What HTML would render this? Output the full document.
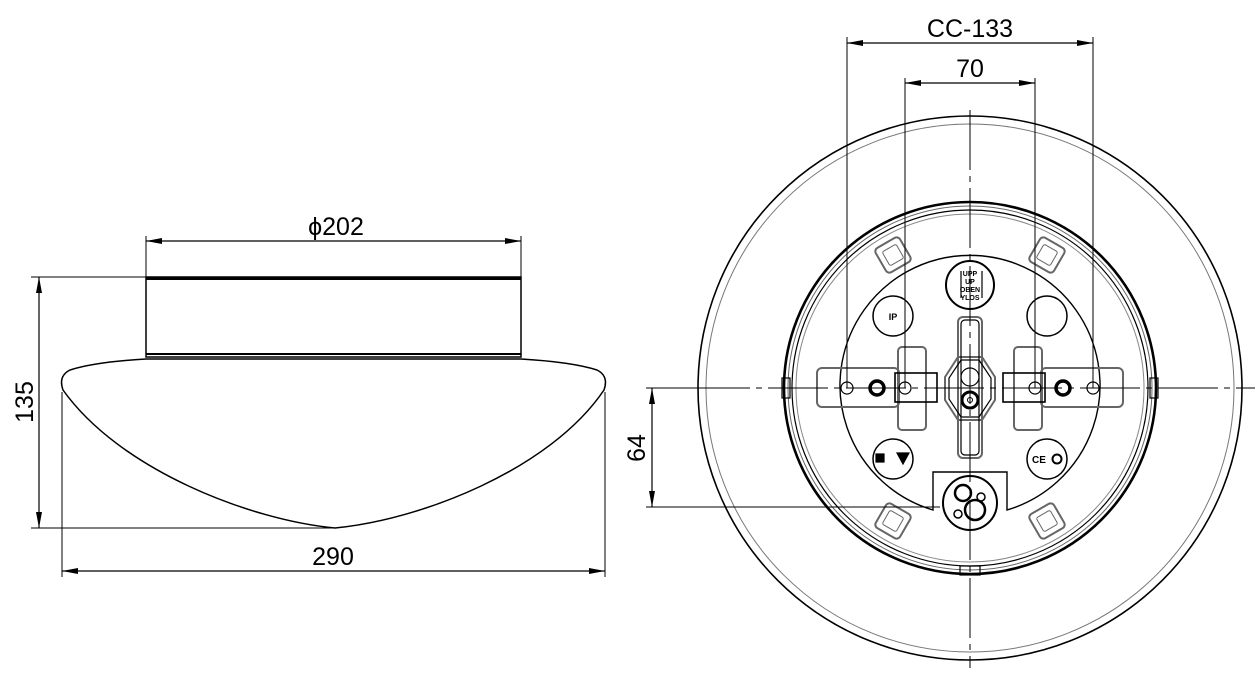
<!DOCTYPE html>
<html><head><meta charset="utf-8"><style>
html,body{margin:0;padding:0;background:#fff;}
svg{display:block;}
text{font-family:"Liberation Sans",sans-serif;fill:#000;}
</style></head><body>
<svg width="1260" height="676" viewBox="0 0 1260 676" xmlns="http://www.w3.org/2000/svg">
<defs>
<marker id="a" viewBox="0 0 16 6" refX="16" refY="3" markerWidth="16" markerHeight="6" markerUnits="userSpaceOnUse" orient="auto-start-reverse"><path d="M0,0 L16,3 L0,6 Z" fill="#000"/></marker>
</defs>
<g fill="none" stroke="#000" stroke-width="1.2">
<!-- LEFT VIEW -->
<rect x="146" y="277" width="375" height="80" stroke-width="1.5"/>
<line x1="146" y1="278.5" x2="521" y2="278.5" stroke-width="3"/>
<line x1="146" y1="354" x2="521" y2="354" stroke-width="2"/>
<path d="M146,359 Q95,362 70,370 Q58,376 63,390 C120,470 250,520 335,528 C420,520 550,470 604,390 Q609,376 597,370 Q572,362 521,359 Z" stroke-width="1.5"/>
<!-- dims left -->
<line x1="146" y1="236" x2="146" y2="277" stroke-width="1"/>
<line x1="521" y1="236" x2="521" y2="277" stroke-width="1"/>
<line x1="146" y1="241" x2="521" y2="241" marker-start="url(#a)" marker-end="url(#a)"/>
<line x1="31" y1="277" x2="146" y2="277" stroke-width="1"/>
<line x1="31" y1="528" x2="335" y2="528" stroke-width="1"/>
<line x1="39" y1="277" x2="39" y2="528" marker-start="url(#a)" marker-end="url(#a)"/>
<line x1="62" y1="392" x2="62" y2="577" stroke-width="1"/>
<line x1="605" y1="392" x2="605" y2="577" stroke-width="1"/>
<line x1="62" y1="571" x2="605" y2="571" marker-start="url(#a)" marker-end="url(#a)"/>

<!-- RIGHT VIEW -->
<circle cx="970" cy="388" r="272" stroke-width="1.6"/>
<circle cx="970" cy="388" r="264" stroke="#777" stroke-width="1"/>
<circle cx="970" cy="388" r="186" stroke-width="2.6"/>
<circle cx="970" cy="388" r="182" stroke="#666" stroke-width="1"/>
<circle cx="970" cy="388" r="178" stroke-width="1.2"/>
<circle cx="970" cy="388" r="174" stroke="#888" stroke-width="1"/>
<path d="M933,472 L1007,472 L1007,510 A130,130 0 1 0 933,510 Z" stroke-width="1.4"/>
<!-- side tabs -->
<rect x="782" y="378" width="8" height="20" stroke-width="1.2"/>
<rect x="1150" y="378" width="8" height="20" stroke-width="1.2"/>
<rect x="960" y="566" width="20" height="9" stroke-width="1.2"/>
<!-- gray clips -->
<g stroke="#666" stroke-width="2">
<rect x="-14" y="-14" width="28" height="28" rx="4" transform="translate(893,255) rotate(-30)"/>
<rect x="-14" y="-14" width="28" height="28" rx="4" transform="translate(1047,255) rotate(30)"/>
<rect x="-14" y="-14" width="28" height="28" rx="4" transform="translate(893,521) rotate(30)"/>
<rect x="-14" y="-14" width="28" height="28" rx="4" transform="translate(1047,521) rotate(-30)"/>
<rect x="-8" y="-8" width="16" height="16" rx="2" transform="translate(893,255) rotate(-30)" stroke-width="1"/>
<rect x="-8" y="-8" width="16" height="16" rx="2" transform="translate(1047,255) rotate(30)" stroke-width="1"/>
<rect x="-8" y="-8" width="16" height="16" rx="2" transform="translate(893,521) rotate(30)" stroke-width="1"/>
<rect x="-8" y="-8" width="16" height="16" rx="2" transform="translate(1047,521) rotate(-30)" stroke-width="1"/>
<!-- brackets -->
<rect x="817" y="368" width="82" height="39" rx="5"/>
<rect x="1041" y="368" width="82" height="39" rx="5"/>
<rect x="898" y="347" width="28" height="83" rx="4"/>
<rect x="1014" y="347" width="28" height="83" rx="4"/>
<rect x="958" y="317" width="24" height="141" rx="5"/>
<path d="M958,357 L982,357 L995,377 L995,400 L982,420 L958,420 L945,400 L945,377 Z"/>
</g>
<rect x="895" y="373" width="42" height="29" stroke-width="1.6"/>
<rect x="1003" y="373" width="42" height="29" stroke-width="1.6"/>
<rect x="961" y="320" width="18" height="135" rx="4" stroke-width="1.2"/>
<path d="M961,360 L979,360 L991,378 L991,399 L979,417 L961,417 L949,399 L949,378 Z" stroke-width="1.2"/>
<circle cx="970" cy="377" r="9"/>
<circle cx="970" cy="400" r="8" stroke-width="3"/>
<circle cx="970" cy="400" r="2.5" stroke-width="1"/>
<circle cx="847" cy="388" r="6"/>
<circle cx="905" cy="388" r="6"/>
<circle cx="1035" cy="388" r="6"/>
<circle cx="1093" cy="388" r="6"/>
<circle cx="877" cy="388" r="7" stroke-width="3.5"/>
<circle cx="1063" cy="388" r="7" stroke-width="3.5"/>
<!-- label circles -->
<circle cx="970" cy="285" r="24" stroke-width="2"/>
<circle cx="893" cy="316" r="20" stroke-width="1.5"/>
<circle cx="1047" cy="316" r="20" stroke-width="1.5"/>
<circle cx="893" cy="459" r="20" stroke-width="1.5"/>
<circle cx="1047" cy="459" r="20" stroke-width="1.5"/>
<rect x="876" y="454" width="8" height="8" fill="#000"/>
<path d="M897,453 L909,453 L903,464 Z" fill="#000"/>
<circle cx="1057" cy="459" r="4.5" stroke-width="2"/>
<!-- cable entry -->
<circle cx="970" cy="503" r="27" stroke-width="2"/>
<circle cx="963" cy="493" r="8" stroke-width="2.5"/>
<circle cx="975" cy="510" r="10" stroke-width="2.5"/>
<circle cx="981" cy="497" r="4" stroke-width="1.5"/>
<circle cx="958" cy="514" r="4" stroke-width="1.5"/>
<line x1="961" y1="271" x2="961" y2="298" stroke-width="1.2"/>
<line x1="982" y1="271" x2="982" y2="298" stroke-width="1.2"/>
<!-- center lines -->
<line x1="970" y1="110" x2="970" y2="668" stroke-width="1" stroke-dasharray="60,6,6,6"/>
<line x1="690" y1="388" x2="1255" y2="388" stroke-width="1" stroke-dasharray="60,6,6,6"/>
<!-- dims right -->
<line x1="847" y1="37" x2="847" y2="388" stroke-width="1"/>
<line x1="1093" y1="37" x2="1093" y2="388" stroke-width="1"/>
<line x1="847" y1="43" x2="1093" y2="43" marker-start="url(#a)" marker-end="url(#a)"/>
<line x1="905" y1="78" x2="905" y2="388" stroke-width="1"/>
<line x1="1035" y1="78" x2="1035" y2="388" stroke-width="1"/>
<line x1="905" y1="83" x2="1035" y2="83" marker-start="url(#a)" marker-end="url(#a)"/>
<line x1="646" y1="388" x2="690" y2="388" stroke-width="1"/>
<line x1="646" y1="507" x2="940" y2="507" stroke-width="1"/>
<line x1="652" y1="388" x2="652" y2="507" marker-start="url(#a)" marker-end="url(#a)"/>
</g>
<text x="336" y="235" font-size="25" text-anchor="middle">ϕ202</text>
<text x="333" y="565" font-size="25" text-anchor="middle">290</text>
<text x="0" y="0" font-size="25" text-anchor="middle" transform="translate(33,402) rotate(-90)">135</text>
<text x="0" y="0" font-size="25" text-anchor="middle" transform="translate(645,448) rotate(-90)">64</text>
<text x="970" y="37" font-size="25" text-anchor="middle">CC-133</text>
<text x="970" y="77" font-size="25" text-anchor="middle">70</text>
<text x="970" y="276" font-size="7" font-weight="bold" text-anchor="middle">UPP</text>
<text x="970" y="284" font-size="7" font-weight="bold" text-anchor="middle">UP</text>
<text x="970" y="292" font-size="7" font-weight="bold" text-anchor="middle">OBEN</text>
<text x="970" y="300" font-size="7" font-weight="bold" text-anchor="middle">YLOS</text>
<text x="893" y="320" font-size="9" font-weight="bold" text-anchor="middle">IP</text>
<text x="1039" y="463" font-size="10" font-weight="bold" text-anchor="middle">CE</text>
</svg>
</body></html>
